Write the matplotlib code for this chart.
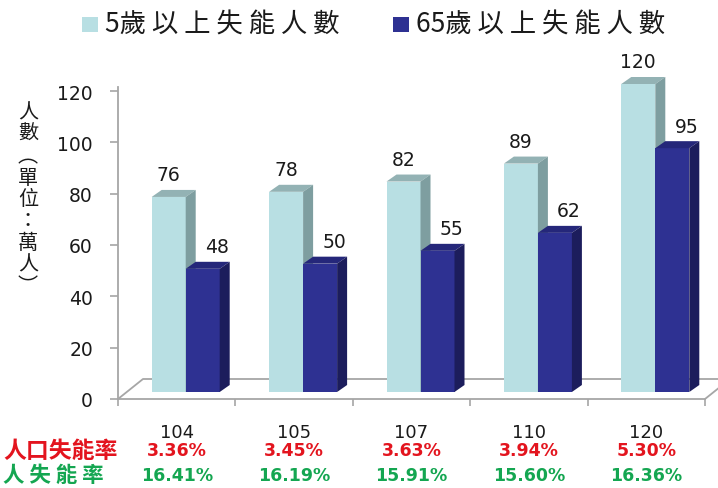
import matplotlib
matplotlib.use('Agg')
import matplotlib.pyplot as plt
from matplotlib.patches import Polygon, Rectangle

plt.rcParams['font.family'] = ['Noto Sans CJK TC', 'DejaVu Sans']
num_font = 'DejaVu Sans'

# data
years = ['104', '105', '107', '110', '120']
age5_disabled = [76, 78, 82, 89, 120]
age65_disabled = [48, 50, 55, 62, 95]
pop_rate = ['3.36%', '3.45%', '3.63%', '3.94%', '5.30%']
elder_rate = ['16.41%', '16.19%', '15.91%', '15.60%', '16.36%']
series_names = ['5歲 以 上 失 能 人 數', '65歲 以 上 失 能 人 數']

W, H = 718, 489
fig = plt.figure(figsize=(W / 100, H / 100), dpi=100)
ax = fig.add_axes([118 / W, 89 / H, 587 / W, 308 / H])
ax.set_xlim(-0.5, len(years) - 0.5)
ax.set_ylim(0, 120)

# pixel -> data unit helpers
px_x = len(years) / 587.
px_y = 120 / 308.

light = ('#B8DFE3', '#93B2B4', '#7E9EA0')
dark = ('#2E3192', '#25277A', '#1C1D5C')
grey = '#A6A6A6'
txt = '#1A1A1A'

base = 7 * px_y
bw = 34 * px_x
dx, dy = 10 * px_x, 7 * px_y


def bar3d(x0, h, cols):
	front, top, side = cols
	y1 = base + h
	ax.add_patch(Polygon([(x0, base), (x0 + bw, base), (x0 + bw, y1), (x0, y1)],
						 fc=front, ec='none', clip_on=False, zorder=3))
	ax.add_patch(Polygon([(x0, y1), (x0 + bw, y1), (x0 + bw + dx, y1 + dy), (x0 + dx, y1 + dy)],
						 fc=top, ec='none', clip_on=False, zorder=3))
	ax.add_patch(Polygon([(x0 + bw, base), (x0 + bw + dx, base + dy), (x0 + bw + dx, y1 + dy), (x0 + bw, y1)],
						 fc=side, ec='none', clip_on=False, zorder=3))


# floor
fdx, fdy = 25 * px_x, 20 * px_y
x_lo, x_hi = -0.5, len(years) - 0.5
ax.plot([x_lo, x_lo + fdx, x_hi + fdx], [0, fdy, fdy], color=grey, lw=1.3, clip_on=False, zorder=1)
ax.plot([x_hi, x_hi + fdx], [0, fdy], color=grey, lw=1.3, clip_on=False, zorder=1)

for i in range(len(years)):
	xl = i - 25 * px_x
	bar3d(xl, age5_disabled[i], light)
	bar3d(xl + bw, age65_disabled[i], dark)
	ax.text(xl + bw / 2, base + age5_disabled[i] + 22 * px_y, str(age5_disabled[i]),
			ha='center', va='center', fontsize=13.5, color=txt, family=num_font)
	ax.text(xl + bw * 1.5 + 14 * px_x, base + age65_disabled[i] + 22 * px_y, str(age65_disabled[i]),
			ha='center', va='center', fontsize=13.5, color=txt, family=num_font)
	ax.text(i, -20, pop_rate[i], ha='center', va='center', fontsize=12.5,
			fontweight='bold', color='#E3141E', clip_on=False, family=num_font)
	ax.text(i, -29.5, elder_rate[i], ha='center', va='center', fontsize=12.5,
			fontweight='bold', color='#14A651', clip_on=False, family=num_font)

# axes styling
for s in ['top', 'right']:
	ax.spines[s].set_visible(False)
ax.spines['left'].set_color(grey)
ax.spines['left'].set_linewidth(1.3)
ax.spines['left'].set_bounds(0, 121.5)
ax.spines['bottom'].set_color(grey)
ax.spines['bottom'].set_linewidth(1.3)

ax.set_yticks(range(0, 121, 20))
ax.tick_params(axis='y', direction='out', length=6, width=1.2, color=grey,
			   labelsize=13.5, labelcolor=txt, pad=12)
ax.set_xticks(range(len(years)))
ax.set_xticklabels(years)
ax.set_xticks([i - 0.5 for i in range(len(years) + 1)], minor=True)
ax.tick_params(axis='x', which='major', length=0, labelsize=13, labelcolor=txt, pad=17)
ax.tick_params(axis='x', which='minor', direction='out', length=5, width=1.2, color=grey)
for lab in ax.get_xticklabels() + ax.get_yticklabels():
	lab.set_fontfamily(num_font)

# vertical y label
fig.text(28 / W, 1 - 200 / H, '\n'.join('人數︵單位：萬人︶'), ha='center', va='center',
		 fontsize=14.5, color=txt, linespacing=1.05)

# row labels
fig.text(3 / W, 1 - 451 / H, '人口失能率', ha='left', va='center', fontsize=16.5,
		 fontweight='bold', color='#E3141E')
fig.text(3 / W, 1 - 475 / H, '人 失 能 率', ha='left', va='center', fontsize=15.5,
		 fontweight='bold', color='#14A651')

# legend
for x0, col, name in [(82, light[0], series_names[0]), (393, dark[0], series_names[1])]:
	fig.patches.append(Rectangle((x0 / W, 1 - 33 / H), 16 / W, 15 / H, fc=col, ec='none',
								 transform=fig.transFigure, figure=fig))
	fig.text((x0 + 23) / W, 1 - 25 / H, name, ha='left', va='center', fontsize=19, color=txt)

fig.savefig('out.png', dpi=100)
